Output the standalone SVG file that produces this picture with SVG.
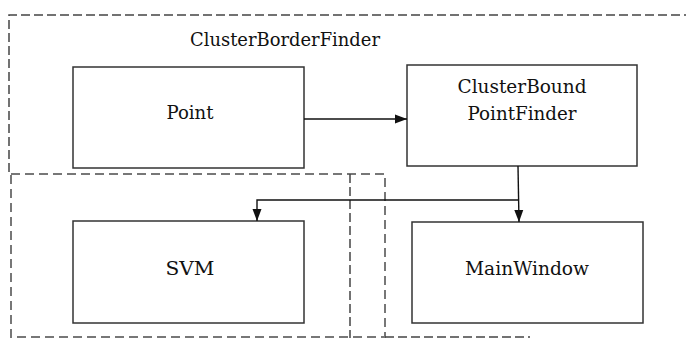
<svg xmlns="http://www.w3.org/2000/svg" width="686" height="338" viewBox="0 0 686 338">
  <style>
    .box { fill: #fff; stroke: #333; stroke-width: 1.5; }
    .lbl { font-family: "DejaVu Serif", "Liberation Serif", serif; font-size: 18px; fill: #111; text-anchor: middle; }
    .wire { fill: none; stroke: #111; stroke-width: 1.4; }
    .dash-outer { fill: none; stroke: #444; stroke-width: 1.5; stroke-dasharray: 9 4; }
    .dash-inner { fill: none; stroke: #777; stroke-width: 2; stroke-dasharray: 9 5; }
  </style>
  <defs>
    <marker id="arrow" viewBox="0 0 12 10" refX="12" refY="5" markerWidth="12" markerHeight="10" markerUnits="userSpaceOnUse" orient="auto">
      <path d="M0,0.5 L12,5 L0,9.5 z" fill="#111"/>
    </marker>
  </defs>
  <rect width="686" height="338" fill="#fff"/>

  <!-- package outlines -->
  <g id="packages">
    <polyline class="dash-outer" points="9,172 9,15 690,15"/>
    <rect class="dash-inner" x="11" y="174" width="374" height="163"/>
    <line class="dash-outer" x1="350" y1="174" x2="350" y2="338"/>
    <line class="dash-outer" x1="385" y1="337" x2="530" y2="337" stroke="#ccc"/>
    <text class="lbl" x="285" y="46" textLength="190" lengthAdjust="spacingAndGlyphs">ClusterBorderFinder</text>
  </g>

  <g id="point">
    <rect class="box" x="73" y="67" width="231" height="101"/>
    <text class="lbl" x="190" y="119" textLength="47" lengthAdjust="spacingAndGlyphs">Point</text>
  </g>

  <g id="clusterBoundPointFinder">
    <rect class="box" x="407" y="65" width="230" height="101"/>
    <text class="lbl" x="522" y="93" textLength="129" lengthAdjust="spacingAndGlyphs">ClusterBound</text>
    <text class="lbl" x="522" y="120" textLength="109" lengthAdjust="spacingAndGlyphs">PointFinder</text>
  </g>

  <g id="svm">
    <rect class="box" x="73" y="221" width="231" height="102"/>
    <text class="lbl" x="190" y="275" textLength="49" lengthAdjust="spacingAndGlyphs">SVM</text>
  </g>

  <g id="mainWindow">
    <rect class="box" x="412" y="222" width="231" height="101"/>
    <text class="lbl" x="527" y="275" textLength="124" lengthAdjust="spacingAndGlyphs">MainWindow</text>
  </g>

  <g id="connectors">
    <line class="wire" x1="304" y1="119" x2="407" y2="119" marker-end="url(#arrow)"/>
    <line class="wire" x1="518" y1="166" x2="519" y2="222" marker-end="url(#arrow)"/>
    <polyline class="wire" points="518,200 257,200 257,221" marker-end="url(#arrow)"/>
  </g>
</svg>
